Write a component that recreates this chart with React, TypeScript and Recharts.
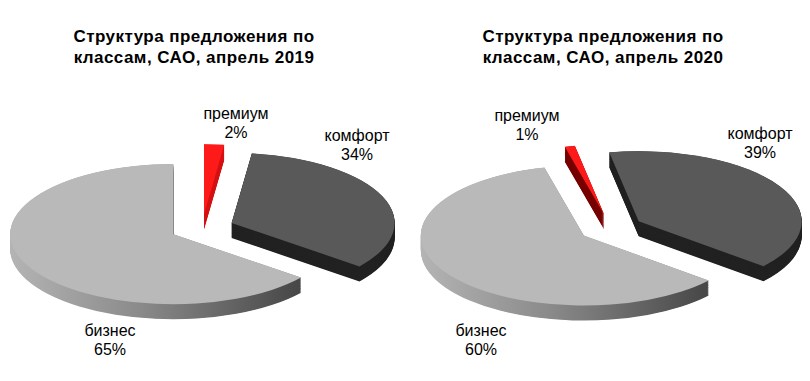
import { PieChart, Pie, Cell } from "recharts";

const CLASSES = ["премиум", "комфорт", "бизнес"];
const SHARE_2019 = [2, 34, 65];
const SHARE_2020 = [1, 39, 60];
const TITLES = [
  ["Структура предложения по", "классам, САО, апрель 2019"],
  ["Структура предложения по", "классам, САО, апрель 2020"],
];

// layout (screen px)
const SQUISH = 0.43;
const RADIUS = 163;
const EXPLODE = 32;
const DEPTH = 35; // unscaled
const TOP_COLORS = ["#ff1a1a", "#595959", "#b9b9b9"];

const PANELS = [
  {
    left: 0, cx: 197, cy: 226, firstAngle: 0, sidePremium: "#d41212",
    labels: [[236, 113], [357, 135], [110, 330]],
    title: 194,
  },
  {
    left: 405, cx: 201, cy: 226, firstAngle: -14, sidePremium: "#760000",
    labels: [[527, 115], [760, 133], [481, 330]],
    title: 603,
  },
];

const FONT = "'Liberation Sans', Arial, sans-serif";

function Pie3D({ values, panel, idx }: { values: number[]; panel: any; idx: number }) {
  const rows = CLASSES.map((name, i) => ({ name, value: values[i] }));
  const total = values.reduce((s, v) => s + v, 0);
  const start = 90 - panel.firstAngle;
  const cyU = panel.cy / SQUISH;
  const gradId = `bizSide${idx}`;
  const sideColors = [panel.sidePremium, "#222222", `url(#${gradId})`];

  // explode every slice outward along its middle angle
  let cum = 0;
  const offsets = values.map((v) => {
    const mid = panel.firstAngle + ((cum + v / 2) / total) * 360;
    cum += v;
    const rad = (mid * Math.PI) / 180;
    return { x: panel.cx + EXPLODE * Math.sin(rad), y: cyU - EXPLODE * Math.cos(rad) };
  });

  const layers: number[] = [];
  for (let d = DEPTH; d > 0; d -= 1.5) layers.push(d);

  const slice = (k: number, dy: number, fill: string) => (
    <Pie
      key={`s${k}-${dy}`}
      data={rows}
      dataKey="value"
      nameKey="name"
      cx={offsets[k].x}
      cy={offsets[k].y + dy}
      outerRadius={RADIUS}
      startAngle={start}
      endAngle={start - 360}
      stroke="none"
      isAnimationActive={false}
    >
      {rows.map((r, i) => (
        <Cell key={r.name} fill={i === k ? fill : "none"} stroke="none" />
      ))}
    </Pie>
  );

  return (
    <div
      style={{
        position: "absolute",
        left: panel.left,
        top: 0,
        width: 405,
        height: 381 / SQUISH,
        transform: `scaleY(${SQUISH})`,
        transformOrigin: "0 0",
      }}
    >
      <svg width={0} height={0} style={{ position: "absolute" }}>
        <defs>
          <linearGradient id={gradId} x1="0" y1="0" x2="1" y2="0">
            <stop offset="0%" stopColor="#b4b4b4" />
            <stop offset="45%" stopColor="#8a8a8a" />
            <stop offset="100%" stopColor="#464646" />
          </linearGradient>
        </defs>
      </svg>
      <PieChart width={405} height={381 / SQUISH}>
        {[0, 1, 2].flatMap((k) => [
          ...layers.map((d) => slice(k, d, sideColors[k])),
          slice(k, 0, TOP_COLORS[k]),
        ])}
      </PieChart>
    </div>
  );
}

export default function App() {
  const series = [SHARE_2019, SHARE_2020];
  return (
    <div
      style={{
        position: "absolute",
        left: 0,
        top: 0,
        width: 810,
        height: 381,
        background: "#fff",
        overflow: "hidden",
        fontFamily: FONT,
      }}
    >
      {PANELS.map((p, idx) => (
        <Pie3D key={idx} values={series[idx]} panel={p} idx={idx} />
      ))}
      {PANELS.map((p, idx) => (
        <div
          key={`t${idx}`}
          style={{
            position: "absolute",
            left: p.title - 170,
            top: 26,
            width: 340,
            textAlign: "center",
            fontWeight: "bold",
            fontSize: 17,
            letterSpacing: 0.45,
            lineHeight: "21px",
            color: "#000",
          }}
        >
          {TITLES[idx][0]}
          <br />
          {TITLES[idx][1]}
        </div>
      ))}
      {PANELS.map((p, idx) =>
        CLASSES.map((name, i) => (
          <div
            key={`l${idx}-${i}`}
            style={{
              position: "absolute",
              left: p.labels[i][0] - 60,
              top: p.labels[i][1] - 9.5,
              width: 120,
              textAlign: "center",
              fontSize: 16,
              lineHeight: "19px",
              color: "#000",
            }}
          >
            {name}
            <br />
            {series[idx][i]}%
          </div>
        ))
      )}
    </div>
  );
}
